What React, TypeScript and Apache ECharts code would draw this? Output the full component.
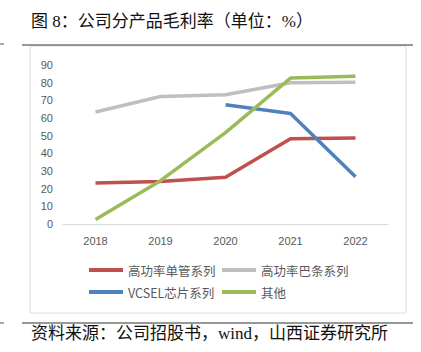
import React, { useEffect, useRef } from "react";
import * as echarts from "echarts";

const years = ["2018", "2019", "2020", "2021", "2022"];
const singleTube = [23.2, 24.0, 26.5, 48.3, 48.7];
const barSeries = [63.4, 72.2, 73.2, 79.9, 80.2];
const vcsel = [null, null, 67.5, 62.6, 26.8];
const others = [2.6, 24.5, 51.7, 82.6, 83.6];
const seriesNames = ["高功率单管系列", "高功率巴条系列", "VCSEL芯片系列", "其他"];
const colors = ["#C0504D", "#BFBFBF", "#4F81BD", "#9BBB59"];
const yTicks = { min: 0, max: 90, interval: 10 };

export default function App() {
  const ref = useRef<HTMLDivElement>(null);
  useEffect(() => {
    const chart = echarts.init(ref.current!, null, { renderer: "svg" });
    const data = [singleTube, barSeries, vcsel, others];
    const serif = '"Liberation Serif", "Times New Roman", "Noto Sans CJK SC", serif';
    const legendText = { color: "#595959", fontSize: 12.5, fontFamily: '"Noto Sans CJK SC", sans-serif', lineHeight: 14 };
    chart.setOption({
      animation: false,
      backgroundColor: "#ffffff",
      grid: { left: 63, right: 33, top: 65, bottom: 128, containLabel: false },
      xAxis: {
        type: "category",
        data: years,
        boundaryGap: true,
        axisLine: { show: true, lineStyle: { color: "#D9D9D9", width: 1 } },
        axisTick: { show: false },
        axisLabel: { color: "#595959", fontSize: 11, fontFamily: "Liberation Sans, Arial", margin: 11 },
        splitLine: { show: false },
      },
      yAxis: {
        type: "value",
        min: yTicks.min,
        max: yTicks.max,
        interval: yTicks.interval,
        axisLine: { show: false },
        axisTick: { show: false },
        axisLabel: { color: "#595959", fontSize: 11, fontFamily: "Liberation Sans, Arial", margin: 10 },
        splitLine: { show: false },
      },
      legend: [
        {
          data: [seriesNames[0], seriesNames[2]],
          orient: "vertical",
          left: 89,
          top: 263,
          padding: 0,
          icon: "rect",
          itemWidth: 34,
          itemHeight: 4,
          itemGap: 8,
          textStyle: legendText,
        },
        {
          data: [seriesNames[1], seriesNames[3]],
          orient: "vertical",
          left: 222,
          top: 263,
          padding: 0,
          icon: "rect",
          itemWidth: 34,
          itemHeight: 4,
          itemGap: 8,
          textStyle: legendText,
        },
      ],
      series: seriesNames.map((name, i) => ({
        name,
        type: "line",
        data: data[i],
        showSymbol: false,
        symbol: "none",
        connectNulls: false,
        lineStyle: { color: colors[i], width: 3.5 },
        itemStyle: { color: colors[i] },
        z: i === 1 ? 1 : 2,
      })),
      graphic: [
        { type: "rect", shape: { x: 30, y: 46, width: 376, height: 267 }, style: { fill: "none", stroke: "#DCDCDC", lineWidth: 1 }, z: -1 },
        { type: "line", shape: { x1: 22, y1: 45, x2: 413, y2: 45 }, style: { stroke: "#333333", lineWidth: 1.2 } },
        { type: "line", shape: { x1: 22, y1: 323, x2: 413, y2: 323 }, style: { stroke: "#333333", lineWidth: 1.2 } },
        { type: "line", shape: { x1: 0, y1: 44, x2: 4, y2: 44 }, style: { stroke: "#555555", lineWidth: 1 } },
        { type: "line", shape: { x1: 0, y1: 323, x2: 4, y2: 323 }, style: { stroke: "#555555", lineWidth: 1 } },
        {
          type: "text",
          left: 31,
          top: 13,
          style: { text: "图 8：公司分产品毛利率（单位：%）", fill: "#111111", fontSize: 17, fontFamily: serif },
        },
        {
          type: "text",
          left: 31,
          top: 325,
          style: { text: "资料来源：公司招股书，wind，山西证券研究所", fill: "#111111", fontSize: 17, fontFamily: serif },
        },
      ],
    });
    return () => chart.dispose();
  }, []);
  return <div ref={ref} style={{ position: "fixed", left: 0, top: 0, width: 421, height: 352 }} />;
}
